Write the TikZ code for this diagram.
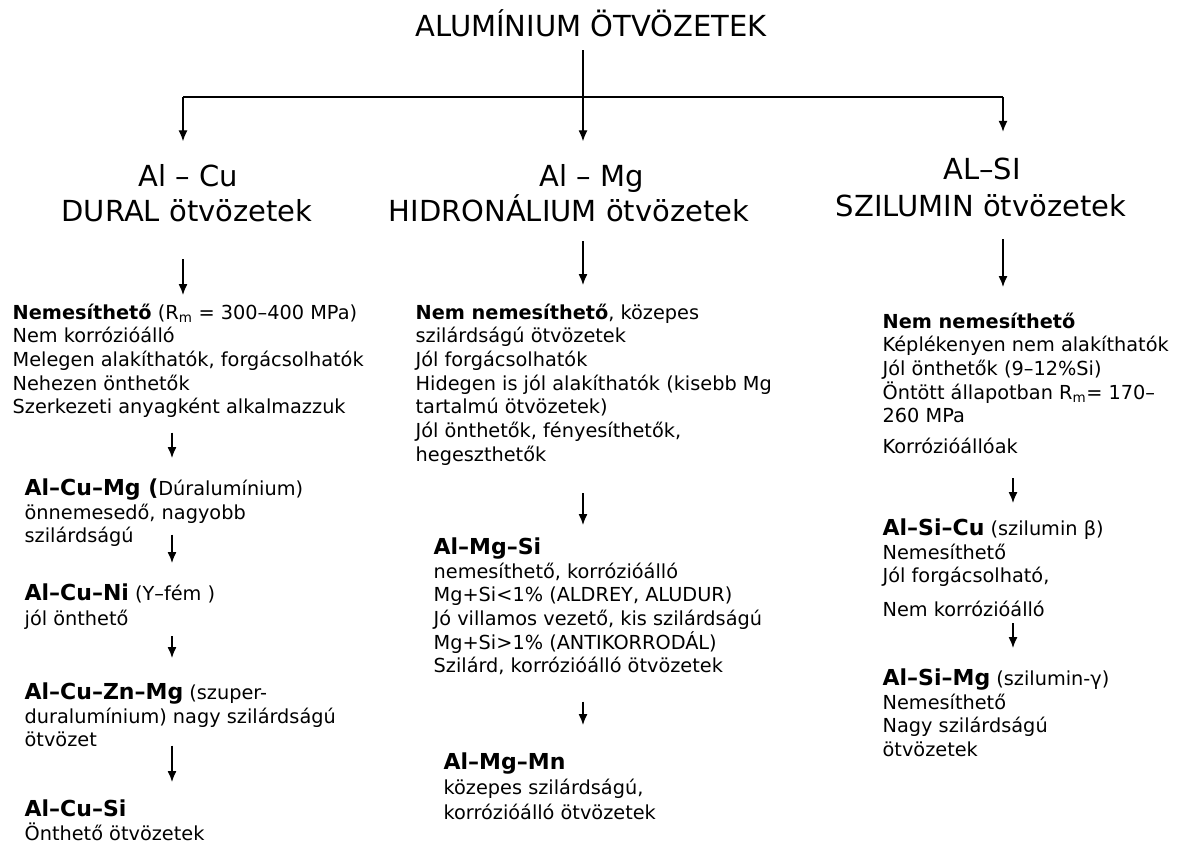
\documentclass[tikz,border=0pt]{standalone}
\usepackage{fontspec}
\setmainfont{DejaVu Sans}
\usetikzlibrary{arrows.meta}

\newcommand{\alloy}[1]{{\fontsize{22}{23.7}\selectfont\bfseries #1}}

\tikzset{
  title/.style={anchor=base, inner sep=0pt, font=\fontsize{29}{34}\selectfont},
  head/.style={anchor=base, inner sep=0pt, font=\fontsize{29}{34}\selectfont},
  info/.style={anchor=north west, inner sep=0pt, align=left,
    font=\fontsize{19.3}{23.7}\selectfont, execute at begin node=\strut},
  arr/.style={-{Latex[length=11pt,width=9pt]}, line width=1.3pt},
}

\begin{document}
\begin{tikzpicture}[x=1pt,y=-1pt,line width=1.3pt]
  \fill[white] (0,0) rectangle (1177,845);
  \useasboundingbox (0,0) rectangle (1177,845);

  \node[title] (title) at (591,37) {ALUMÍNIUM ÖTVÖZETEK};

  \node[head] (alcu)  at (188,186) {Al – Cu};
  \node[head] (dural) at (187,221) {DURAL ötvözetek};
  \node[head] (almg)  at (592,186) {Al – Mg};
  \node[head] (hidro) at (569,221) {HIDRONÁLIUM ötvözetek};
  \node[head] (alsi)  at (982,179) {AL–SI};
  \node[head] (szil)  at (981,216) {SZILUMIN ötvözetek};

  % Al-Cu
  \node[info] (cu1) at (12,303) {\textbf{Nemesíthető} (R\textsubscript{m} = 300–400 MPa)\\
    Nem korrózióálló\\ Melegen alakíthatók, forgácsolhatók\\
    Nehezen önthetők\\ Szerkezeti anyagként alkalmazzuk};
  \node[info] (cu2) at (24,478) {\alloy{Al–Cu–Mg (}Dúralumínium)\\
    önnemesedő, nagyobb\\ szilárdságú};
  \node[info] (cu3) at (24,583) {\alloy{Al–Cu–Ni} (Y–fém )\\[1.5pt] jól önthető};
  \node[info] (cu4) at (24,682) {\alloy{Al–Cu–Zn–Mg} (szuper-\\
    duralumínium) nagy szilárdságú\\ ötvözet};
  \node[info] (cu5) at (24,799) {\alloy{Al–Cu–Si}\\ Önthető ötvözetek};

  % Al-Mg
  \node[info] (mg1) at (415,303) {\textbf{Nem nemesíthető}, közepes\\
    szilárdságú ötvözetek\\ Jól forgácsolhatók\\
    Hidegen is jól alakíthatók (kisebb Mg\\ tartalmú ötvözetek)\\
    Jól önthetők, fényesíthetők,\\ hegeszthetők};
  \node[info] (mg2) at (433,537) {\alloy{Al–Mg–Si}\\ nemesíthető, korrózióálló\\
    Mg+Si<1\% (ALDREY, ALUDUR)\\ Jó villamos vezető, kis szilárdságú\\
    Mg+Si>1\% (ANTIKORRODÁL)\\ Szilárd, korrózióálló ötvözetek};
  \node[info] (mg3) at (443,752) {\alloy{Al–Mg–Mn}\\[1.5pt] közepes szilárdságú,\\[1.5pt]
    korrózióálló ötvözetek};

  % Al-Si
  \node[info] (si1) at (882,312) {\textbf{Nem nemesíthető}\\ Képlékenyen nem alakíthatók\\
    Jól önthetők (9–12\%Si)\\ Öntött állapotban R\textsubscript{m}= 170–\\
    260 MPa\\[7pt] Korrózióállóak};
  \node[info] (si2) at (882,518) {\alloy{Al–Si–Cu} (szilumin β)\\ Nemesíthető\\
    Jól forgácsolható,\\[10pt] Nem korrózióálló};
  \node[info] (si3) at (882,668) {\alloy{Al–Si–Mg} (szilumin-γ)\\ Nemesíthető\\
    Nagy szilárdságú\\ ötvözetek};

  \coordinate (hub)  at (583,97);
  \coordinate (hubL) at (183,97);
  \coordinate (hubR) at (1003,97);
  \coordinate (colL) at (172,0);
  \coordinate (colM) at (583,0);
  \coordinate (colR) at (1013,0);

  \draw (hubL) -- (hubR);
  \draw[arr, shorten <=12pt, shorten >=22pt] (title.south -| hub) -- (almg.north -| hub);
  \draw[arr, shorten >=22pt] (hubL) -- (alcu.north -| hubL);
  \draw[arr, shorten >=25pt] (hubR) -- (alsi.north -| hubR);

  \draw[arr, shorten <=37pt, shorten >=8pt] (dural.south -| hubL) -- (cu1.north -| hubL);
  \draw[arr, shorten <=11pt, shorten >=20pt] (cu1.south -| colL) -- (cu2.north -| colL);
  \draw[arr, shorten <=-16pt, shorten >=20pt] (cu2.south -| colL) -- (cu3.north -| colL);
  \draw[arr, shorten <=3pt, shorten >=24pt] (cu3.south -| colL) -- (cu4.north -| colL);
  \draw[arr, shorten <=-9pt, shorten >=17pt] (cu4.south -| colL) -- (cu5.north -| colL);

  \draw[arr, shorten <=19pt, shorten >=18pt] (hidro.south -| colM) -- (mg1.north -| colM);
  \draw[arr, shorten <=24pt, shorten >=12pt] (mg1.south -| colM) -- (mg2.north -| colM);
  \draw[arr, shorten <=21pt, shorten >=27pt] (mg2.south -| colM) -- (mg3.north -| colM);

  \draw[arr, shorten <=22pt, shorten >=25pt] (szil.south -| hubR) -- (si1.north -| hubR);
  \draw[arr, shorten <=17pt, shorten >=15pt] (si1.south -| colR) -- (si2.north -| colR);
  \draw[arr, shorten <=-1pt, shorten >=20pt] (si2.south -| colR) -- (si3.north -| colR);
\end{tikzpicture}
\end{document}
